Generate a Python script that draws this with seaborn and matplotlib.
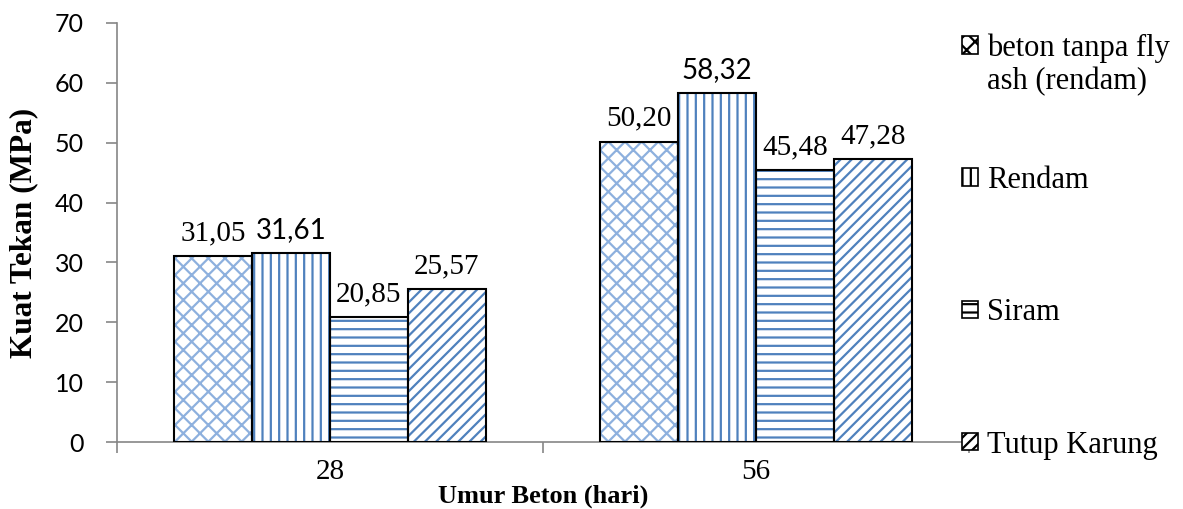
import numpy as np
import pandas as pd
import matplotlib
matplotlib.use("Agg")
import matplotlib.pyplot as plt
import seaborn as sns
from matplotlib.patches import Rectangle, Patch

umur = ["28", "56"]
series = ["beton tanpa fly ash (rendam)", "Rendam", "Siram", "Tutup Karung"]
nilai_tanpa_fly = [31.05, 50.20]
nilai_rendam = [31.61, 58.32]
nilai_siram = [20.85, 45.48]
nilai_tutup = [25.57, 47.28]

hatches = ["xx", "||", "--", "///"]
hatch_cols = ["#8DB0DE", "#4F81BD", "#4F81BD", "#4F81BD"]

sns.set_theme(style="white")
plt.rcParams["font.family"] = ["Liberation Serif", "DejaVu Serif"]
plt.rcParams["hatch.linewidth"] = 1.6
plt.rcParams["text.color"] = "black"
plt.rcParams["xtick.color"] = "black"
plt.rcParams["ytick.color"] = "black"
plt.rcParams["axes.labelcolor"] = "black"

rows = []
for s, vals in zip(series, [nilai_tanpa_fly, nilai_rendam, nilai_siram, nilai_tutup]):
    for u, v in zip(umur, vals):
        rows.append({"Umur": u, "Seri": s, "Kuat": v})
df = pd.DataFrame(rows)

fig = plt.figure(figsize=(11.83, 5.09), dpi=100)
ax = fig.add_axes([117 / 1183, 1 - 442 / 509, (969 - 117) / 1183, (442 - 23) / 509])

sns.barplot(data=df, x="Umur", y="Kuat", hue="Seri", hue_order=series,
            order=umur, width=0.732, gap=0, palette=["white"] * 4,
            legend=False, ax=ax, errorbar=None, saturation=1)

for i, cont in enumerate(ax.containers):
    for p in cont.patches:
        p.set_facecolor("white")
        p.set_edgecolor(hatch_cols[i])
        p.set_hatch(hatches[i])
        p.set_linewidth(0)
        ax.add_patch(Rectangle(p.get_xy(), p.get_width(), p.get_height(),
                               fill=False, edgecolor="black", linewidth=1.5, zorder=3))
    labels = [f"{v:.2f}".replace(".", ",") for v in cont.datavalues]
    txts = ax.bar_label(cont, labels=labels, padding=7, fontsize=21, color="black")
    if i == 1:
        for t in txts:
            t.set_fontfamily(["Lato", "DejaVu Sans"])
            t.set_fontsize(20)

ax.set_xlim(-0.5, 1.5)
ax.set_ylim(0, 70)
ax.set_yticks(range(0, 71, 10))
for t in ax.get_yticklabels():
    t.set_fontfamily(["Lato", "DejaVu Sans"])
ax.tick_params(axis="y", labelsize=18, length=8, width=1.2, color="#868686",
               direction="out", left=True, pad=16, labelcolor="black")
ax.tick_params(axis="x", which="major", length=0, labelsize=21, pad=12, labelcolor="black")
ax.set_xticks([-0.5, 0.5, 1.5], minor=True)
ax.tick_params(axis="x", which="minor", length=8, width=1.2, color="#868686",
               direction="out", bottom=True)

for side in ["top", "right"]:
    ax.spines[side].set_visible(False)
for side in ["left", "bottom"]:
    ax.spines[side].set_color("#868686")
    ax.spines[side].set_linewidth(1.2)

ax.set_xlabel("Umur Beton (hari)", fontsize=19, fontweight="bold", labelpad=0)
ax.set_ylabel("Kuat Tekan (MPa)", fontsize=22.5, fontweight="bold", labelpad=12)

# legend: the first label wraps onto a second line like in the original
leg_labels = ["beton tanpa fly", "Rendam", "Siram", "Tutup Karung"]
handles = [Patch(facecolor="white", edgecolor="black", hatch=h, linewidth=1.2)
           for h in hatches]
leg = fig.legend(handles, leg_labels, loc="upper left", bbox_to_anchor=(950 / 1183, 1 - 21 / 509),
                 frameon=False, fontsize=22, handlelength=0.5, handleheight=0.5,
                 handletextpad=0.3, labelspacing=3.38, borderaxespad=0)

fig.canvas.draw()
t0 = leg.get_texts()[0]
bb = t0.get_window_extent().transformed(fig.transFigure.inverted())
fig.text(bb.x0, bb.y0 - 4 / 509, "ash (rendam)", fontsize=22, ha="left", va="top")

fig.savefig("out.png", dpi=100)
